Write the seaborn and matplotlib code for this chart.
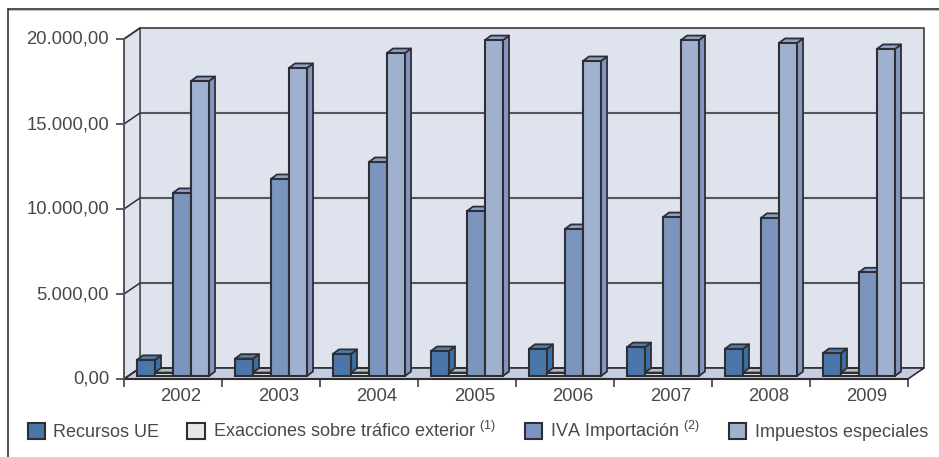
import numpy as np
import pandas as pd
import matplotlib
matplotlib.use("Agg")
import matplotlib.pyplot as plt
from matplotlib.lines import Line2D
from matplotlib.patches import Polygon
from matplotlib.transforms import ScaledTranslation
import seaborn as sns

years = ["2002", "2003", "2004", "2005", "2006", "2007", "2008", "2009"]
recursos_ue = [950, 1020, 1300, 1470, 1600, 1700, 1600, 1350]
exacciones = [200, 200, 200, 200, 200, 200, 200, 200]
iva_importacion = [10770, 11590, 12590, 9700, 8650, 9350, 9300, 6100]
impuestos_especiales = [17350, 18120, 19000, 19760, 18530, 19760, 19590, 19240]
series_names = ["Recursos UE", r"Exacciones sobre tráfico exterior $^{(1)}$ ",
                r"IVA Importación $^{(2)}$ ", "Impuestos especiales"]
y_ticks = [0, 5000, 10000, 15000, 20000]
y_tick_labels = ["0,00", "5.000,00", "10.000,00", "15.000,00", "20.000,00"]

front_colors = ["#4a76a9", "#e6e7e9", "#7b95bf", "#a0b1cf"]
side_colors = ["#3a6fa3", "#e6e7e9", "#7189b8", "#8396c2"]
top_colors = ["#4f7db0", "#b8bcc6", "#8aa0c6", "#8ea2c8"]
wall = "#dfe3ee"
floor = "#c5cde1"
edge = "#2e2e33"
text = "#484848"

W, H = 939, 457
sns.set_theme(style="white")
plt.rcParams["font.family"] = ["Liberation Sans", "DejaVu Sans"]
plt.rcParams["mathtext.default"] = "regular"

df = pd.DataFrame({
    "year": years * 4,
    "serie": np.repeat(series_names, len(years)),
    "value": recursos_ue + exacciones + iva_importacion + impuestos_especiales,
})

fig = plt.figure(figsize=(W / 100, H / 100), dpi=100, facecolor="white")
ax = fig.add_axes([124 / W, 1 - 379 / H, 784 / W, 340 / H])
sns.barplot(data=df, x="year", y="value", hue="serie", hue_order=series_names,
            palette=front_colors, width=0.735, gap=0, saturation=1,
            edgecolor=edge, linewidth=1.5, ax=ax, errorbar=None)
ax.set_xlim(-0.5, 7.5)
ax.set_ylim(0, 20000)
ax.set_xlabel("")
ax.set_ylabel("")
for s in ax.spines.values():
    s.set_visible(False)

px_x = 1 / 98
px_y = 20000 / 340
dx, dy = 16 * px_x, 11 * px_y
x0, x1 = -0.5, 7.5
y0, y1 = 0, 20000


def poly(pts, fc, ec=edge, lw=1.2, z=1):
    ax.add_patch(Polygon(pts, closed=True, facecolor=fc, edgecolor=ec,
                         linewidth=lw, zorder=z, clip_on=False, joinstyle="round"))


# Walls and floor
poly([(x0 + dx, y0 + dy), (x1 + dx, y0 + dy), (x1 + dx, y1 + dy), (x0 + dx, y1 + dy)], wall, "#55565c", 1.4)
poly([(x0, y0), (x0 + dx, y0 + dy), (x0 + dx, y1 + dy), (x0, y1)], wall, "#55565c", 1.2)
poly([(x0, y0), (x0 + dx, y0 + dy), (x1 + dx, y0 + dy), (x1, y0)], floor, edge, 1.2, 1.2)
for v in y_ticks[1:-1]:
    ax.plot([x0 + dx, x1 + dx], [v + dy, v + dy], color="#55565c", lw=1.5, zorder=1.5, clip_on=False)
for v in y_ticks[:-1]:
    ax.plot([x0, x0 + dx], [v, v + dy], color=edge, lw=1.1, zorder=1.5, clip_on=False)
ax.plot([x0, x0 + dx], [y1, y1 + dy], color=edge, lw=1.1, zorder=1.5, clip_on=False)
ax.plot([x0, x1], [y0, y0], color=edge, lw=1.5, zorder=2, clip_on=False)
ax.plot([x0, x0], [y0, y1], color="#55565c", lw=1.3, zorder=2, clip_on=False)

# 3D bars: lift each seaborn bar onto the floor and add its top and side faces
lift = 3 * px_y
bd_x, bd_y = 6 * px_x, 4.5 * px_y
items = []
for i, cont in enumerate(ax.containers):
    for p in cont.patches:
        items.append((p.get_x(), i, p))
items.sort(key=lambda t: t[0])
for k, (x, i, p) in enumerate(items):
    z = 3 + k * 0.01
    w, h = p.get_width(), p.get_height()
    p.set_y(lift)
    p.set_zorder(z + 0.002)
    l, r, b, t = x, x + w, lift, lift + h
    poly([(r, b), (r + bd_x, b + bd_y), (r + bd_x, t + bd_y), (r, t)], side_colors[i], edge, 1.3, z)
    poly([(l, t), (l + bd_x, t + bd_y), (r + bd_x, t + bd_y), (r, t)], top_colors[i], edge, 1.3, z + 0.001)

# Ticks
ax.set_yticks(y_ticks, y_tick_labels)
ax.tick_params(axis="y", length=5.8, width=1.1, color=edge, pad=5,
               labelsize=13.3, labelcolor=text, left=True)
ax.set_xticks(range(len(years)), years)
ax.tick_params(axis="x", which="major", length=0, pad=6.8, labelsize=13.3, labelcolor=text)
ax.set_xticks(np.arange(x0, x1 + 0.5, 1), minor=True)
ax.tick_params(axis="x", which="minor", length=5.8, width=1.1, color=edge, bottom=True)
shift = ScaledTranslation(8 / 100, 0, fig.dpi_scale_trans)
for lab in ax.get_xticklabels():
    lab.set_transform(lab.get_transform() + shift)
shift_y = ScaledTranslation(0, 1.5 / 100, fig.dpi_scale_trans)
for lab in ax.get_yticklabels():
    lab.set_transform(lab.get_transform() + shift_y)

# Legend
sns.move_legend(ax, loc="lower left", bbox_to_anchor=(24.5 / W, 1 - 447 / H),
                bbox_transform=fig.transFigure, ncol=4, frameon=False, title=None,
                fontsize=13.0, labelcolor=text, handlelength=0.95, handleheight=1.0,
                handletextpad=0.45, columnspacing=1.55, borderpad=0.2, borderaxespad=0)

# Outer frame
fig.add_artist(Line2D([7.5 / W, 1], [1 - 8.5 / H, 1 - 8.5 / H], color="#222222", lw=1.1))
fig.add_artist(Line2D([7.5 / W, 1], [1 - 9.6 / H, 1 - 9.6 / H], color="#bbbbbb", lw=0.7))
fig.add_artist(Line2D([7.5 / W, 7.5 / W], [0, 1 - 8.5 / H], color="#222222", lw=1.1))

fig.savefig("out.png", dpi=100, facecolor="white")
